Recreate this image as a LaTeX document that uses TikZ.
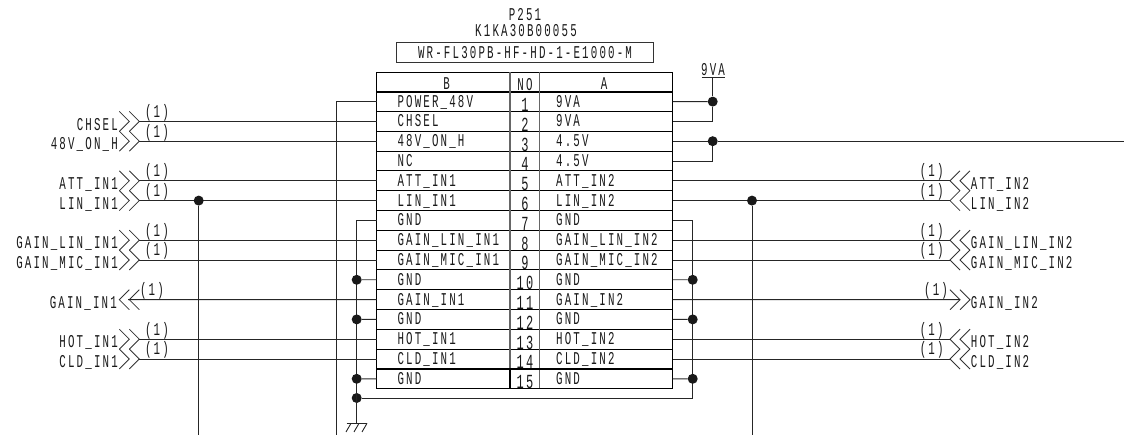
\documentclass[tikz,border=0pt]{standalone}
\usepackage{fontspec}
\setmainfont{Liberation Mono}[FakeStretch=0.6,LetterSpace=12]

\tikzset{
    wire/.style={line width=0.9pt,black!85},
    dot/.style={circle,fill=black!90,inner sep=0pt,minimum size=10pt},
    lbl/.style={inner sep=0pt,font=\fontsize{18}{20}\selectfont,text=black!90},
    numlbl/.style={inner sep=0pt,font=\fontsize{20}{22}\selectfont,text=black!90},
    chevout/.pic={\draw[line width=0.8pt,black!80] (-10,-10)--(0,0)--(-10,10) (-20,-10)--(-10,0)--(-20,10);},
    chevin/.pic={\draw[line width=0.8pt,black!80] (10,-10)--(0,0)--(10,10) (20,-10)--(10,0)--(20,10);}
}

\begin{document}
\begin{tikzpicture}[x=1pt,y=-1pt]
    \useasboundingbox (0,0) rectangle (1124,435);

    % title
    \node[lbl,anchor=base] (ref) at (525,20.7) {P251};
    \node[lbl,anchor=base] (part) at (526,36.7) {K1KA30B00055};
    \draw[line width=0.8pt,black!80] (396,42.3) rectangle (653.3,62.3);
    \node[lbl,anchor=base] (model) at (525,58.3) {WR-FL30PB-HF-HD-1-E1000-M};

    % table
    \node[lbl,anchor=base] (headb) at (446.7,90) {B};
    \node[lbl,anchor=base] (headno) at (525,90.5) {NO};
    \node[lbl,anchor=base] (heada) at (604,90) {A};
    \foreach \n/\b/\a in {1/POWER\_48V/9VA,2/CHSEL/9VA,3/48V\_ON\_H/4.5V,4/NC/4.5V,
        5/ATT\_IN1/ATT\_IN2,6/LIN\_IN1/LIN\_IN2,7/GND/GND,8/GAIN\_LIN\_IN1/GAIN\_LIN\_IN2,
        9/GAIN\_MIC\_IN1/GAIN\_MIC\_IN2,10/GND/GND,11/GAIN\_IN1/GAIN\_IN2,12/GND/GND,
        13/HOT\_IN1/HOT\_IN2,14/CLD\_IN1/CLD\_IN2,15/GND/GND}{
        \pgfmathsetmacro\yy{91.7+19.8*(\n-0.5)}
        \pgfmathsetmacro\yb{91.7+19.8*\n}
        \coordinate (L\n) at (376.7,\yy);
        \coordinate (R\n) at (672.7,\yy);
        \node[lbl,anchor=base west] (b\n) at (397.3,\yy+5.6) {\b};
        \node[numlbl,anchor=base] (no\n) at (525,\yy+10) {\n};
        \node[lbl,anchor=base west] (a\n) at (556,\yy+5.6) {\a};
        \draw[line width=1pt] (376.7,\yb) -- (672.7,\yb);
    }
    \draw[line width=1pt] (376.7,72.3) -- (672.7,72.3);
    \draw[line width=1.7pt] (376.7,91.7) -- (672.7,91.7);
    \draw[line width=1pt] (376.7,72.3) -- (376.7,388.7) (672.7,72.3) -- (672.7,388.7);
    \draw[line width=1.2pt,black!60] (510,72.3) -- (510,388.7) (539.3,72.3) -- (539.3,388.7);
    \draw[line width=1.5pt] (376.7,368.9) rectangle (672.7,388.7);
    \draw[line width=1.5pt] (510,368.9) -- (510,388.7);

    % left side signals
    \foreach \n/\t in {2/CHSEL,3/48V\_ON\_H,5/ATT\_IN1,6/LIN\_IN1,8/GAIN\_LIN\_IN1,
        9/GAIN\_MIC\_IN1,13/HOT\_IN1,14/CLD\_IN1}{
        \pgfmathsetmacro\yy{91.7+19.8*(\n-0.5)}
        \coordinate (SL\n) at (139.3,\yy);
        \node[lbl,anchor=base east] (sl\n) at (118,\yy+8.7) {\t};
        \node[lbl,anchor=base] (ql\n) at (157,\yy-4) {(1)};
        \pic at (SL\n) {chevout};
        \draw[wire] (SL\n) -- (L\n);
    }
    \coordinate (SL11) at (128,299.7);
    \node[lbl,anchor=base east] (sl11) at (117,308.4) {GAIN\_IN1};
    \node[lbl,anchor=base] (ql11) at (152,295.7) {(1)};
    \pic at (119.3,299.7) {chevin};
    \draw[wire] (SL11) -- (L11);

    % right side signals
    \foreach \n/\t in {5/ATT\_IN2,6/LIN\_IN2,8/GAIN\_LIN\_IN2,9/GAIN\_MIC\_IN2,
        13/HOT\_IN2,14/CLD\_IN2}{
        \pgfmathsetmacro\yy{91.7+19.8*(\n-0.5)}
        \coordinate (SR\n) at (950,\yy);
        \node[lbl,anchor=base west] (sr\n) at (970.7,\yy+8.7) {\t};
        \node[lbl,anchor=base] (qr\n) at (931.7,\yy-4) {(1)};
        \pic at (SR\n) {chevin};
        \draw[wire] (R\n) -- (SR\n);
    }
    \coordinate (SR11) at (960,299.7);
    \node[lbl,anchor=base west] (sr11) at (970.7,308.4) {GAIN\_IN2};
    \node[lbl,anchor=base] (qr11) at (936,295.7) {(1)};
    \pic at (970,299.7) {chevout};
    \draw[wire] (R11) -- (SR11);

    % power
    \coordinate (pwr) at (336.7,435);
    \draw[wire] (L1) -| (pwr);
    \node[lbl,anchor=base] (nine) at (713,76) {9VA};
    \coordinate (ninetop) at (712.7,77.3);
    \coordinate (ninel) at (701.7,77.3);
    \coordinate (niner) at (725,77.3);
    \draw[wire] (ninel) -- (niner);
    \node[dot] (j1) at (712.7,101.6) {};
    \draw[wire] (R1) -- (j1);
    \draw[wire] (ninetop) -- (j1);
    \draw[wire] (R2) -| (j1);
    \node[dot] (j3) at (712.7,141.2) {};
    \coordinate (rend) at (1124,141.2);
    \draw[wire] (R3) -- (j3) -- (rend);
    \draw[wire] (R4) -| (j3);

    % lines going down
    \node[dot] (jl) at (198.7,200.6) {};
    \coordinate (jlend) at (198.7,435);
    \draw[wire] (jl) -- (jlend);
    \node[dot] (jr) at (752,200.6) {};
    \coordinate (jrend) at (752,435);
    \draw[wire] (jr) -- (jrend);

    % ground
    \coordinate (gnd) at (356.7,423.3);
    \coordinate (rb) at (692.7,398);
    \node[dot] (gj) at (356.7,398) {};
    \draw[wire] (L7) -| (gnd);
    \draw[wire] (R7) -| (rb) -- (gj);
    \foreach \n/\yy in {10/279.8,12/319.4,15/378.8}{
        \node[dot] (gl\n) at (356.7,\yy) {};
        \node[dot] (gr\n) at (692.7,\yy) {};
        \draw[wire] (gl\n) -- (L\n);
        \draw[wire] (R\n) -- (gr\n);
    }
    \draw[wire] (346.7,423.3) -- (366.7,423.3);
    \draw[wire] (351,423.3) -- (346,432) (359,423.3) -- (354,432) (367,423.3) -- (362,432);
\end{tikzpicture}
\end{document}
